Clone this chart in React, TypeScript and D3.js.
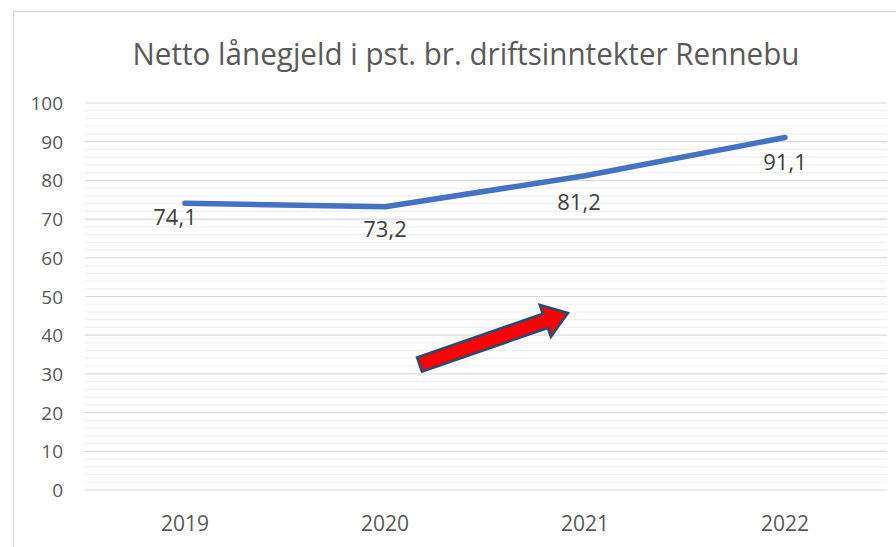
import React from "react";
import * as d3 from "d3";

const title = "Netto lånegjeld i pst. br. driftsinntekter Rennebu";
const years = ["2019", "2020", "2021", "2022"];
const values = [74.1, 73.2, 81.2, 91.1];
const yTicks = [0, 10, 20, 30, 40, 50, 60, 70, 80, 90, 100];
// label offsets relative to each point (dx, dy of baseline)
const labelDx = [-10, 0, -6, 0];
const labelDy = [22, 30, 34, 33];

const W = 896;
const H = 547;
const FONT = "'Open Sans', 'Noto Sans', sans-serif";

export default function App() {
  const x = d3.scaleBand<string>().domain(years).range([85, 885]).padding(0);
  const y = d3.scaleLinear().domain([0, 100]).range([490, 103]);
  const cx = (d: string) => (x(d) as number) + x.bandwidth() / 2;

  const minor = d3.range(0, 101, 2).filter((v) => v % 10 !== 0);
  const line = d3
    .line<number>()
    .x((_, i) => cx(years[i]))
    .y((v) => y(v));

  // arrow annotation (shape)
  const tail: [number, number] = [419.5, 364.5];
  const tip: [number, number] = [568, 313];
  const ang = (Math.atan2(tip[1] - tail[1], tip[0] - tail[0]) * 180) / Math.PI;
  const len = Math.hypot(tip[0] - tail[0], tip[1] - tail[1]);
  const sh = 7.5;
  const hh = 17;
  const hl = 24;
  const arrowPts = [
    [0, -sh],
    [len - hl, -sh],
    [len - hl, -hh],
    [len, 0],
    [len - hl, hh],
    [len - hl, sh],
    [0, sh],
  ]
    .map((p) => p.join(","))
    .join(" ");

  return (
    <svg
      width={W}
      height={H}
      style={{ position: "absolute", left: 0, top: 0, background: "#fff" }}
      fontFamily={FONT}
    >
      <rect x={0} y={0} width={W} height={H} fill="#fff" />
      <rect
        x={13.5}
        y={11.5}
        width={W + 20}
        height={H + 20}
        fill="none"
        stroke="#d9d9d9"
        strokeWidth={1.5}
      />
      <text
        x={466}
        y={65}
        textAnchor="middle"
        fontSize={31}
        fill="#595959"
        textLength={667}
        lengthAdjust="spacingAndGlyphs"
      >
        {title}
      </text>

      {minor.map((v) => (
        <line
          key={"m" + v}
          x1={85}
          x2={887}
          y1={y(v)}
          y2={y(v)}
          stroke="#f0f0f0"
          strokeWidth={1.2}
        />
      ))}
      {yTicks.map((v) => (
        <line
          key={"g" + v}
          x1={85}
          x2={887}
          y1={y(v)}
          y2={y(v)}
          stroke="#d9d9d9"
          strokeWidth={1.2}
        />
      ))}
      {yTicks.map((v) => (
        <text
          key={"t" + v}
          x={63}
          y={y(v) + 7}
          textAnchor="end"
          fontSize={19}
          fill="#595959"
        >
          {v}
        </text>
      ))}
      {years.map((yr) => (
        <text
          key={yr}
          x={cx(yr)}
          y={531}
          textAnchor="middle"
          fontSize={21}
          fill="#595959"
        >
          {yr}
        </text>
      ))}

      <path
        d={line(values) || ""}
        fill="none"
        stroke="#4472C4"
        strokeWidth={5.5}
        strokeLinecap="round"
        strokeLinejoin="round"
      />
      {values.map((v, i) => (
        <text
          key={"l" + i}
          x={cx(years[i]) + labelDx[i]}
          y={y(v) + labelDy[i]}
          textAnchor="middle"
          fontSize={22}
          fill="#404040"
        >
          {v.toFixed(1).replace(".", ",")}
        </text>
      ))}

      <polygon
        points={arrowPts}
        transform={`translate(${tail[0]},${tail[1]}) rotate(${ang})`}
        fill="#ff0000"
        stroke="#1f4e79"
        strokeWidth={2.5}
        strokeLinejoin="miter"
      />
    </svg>
  );
}
